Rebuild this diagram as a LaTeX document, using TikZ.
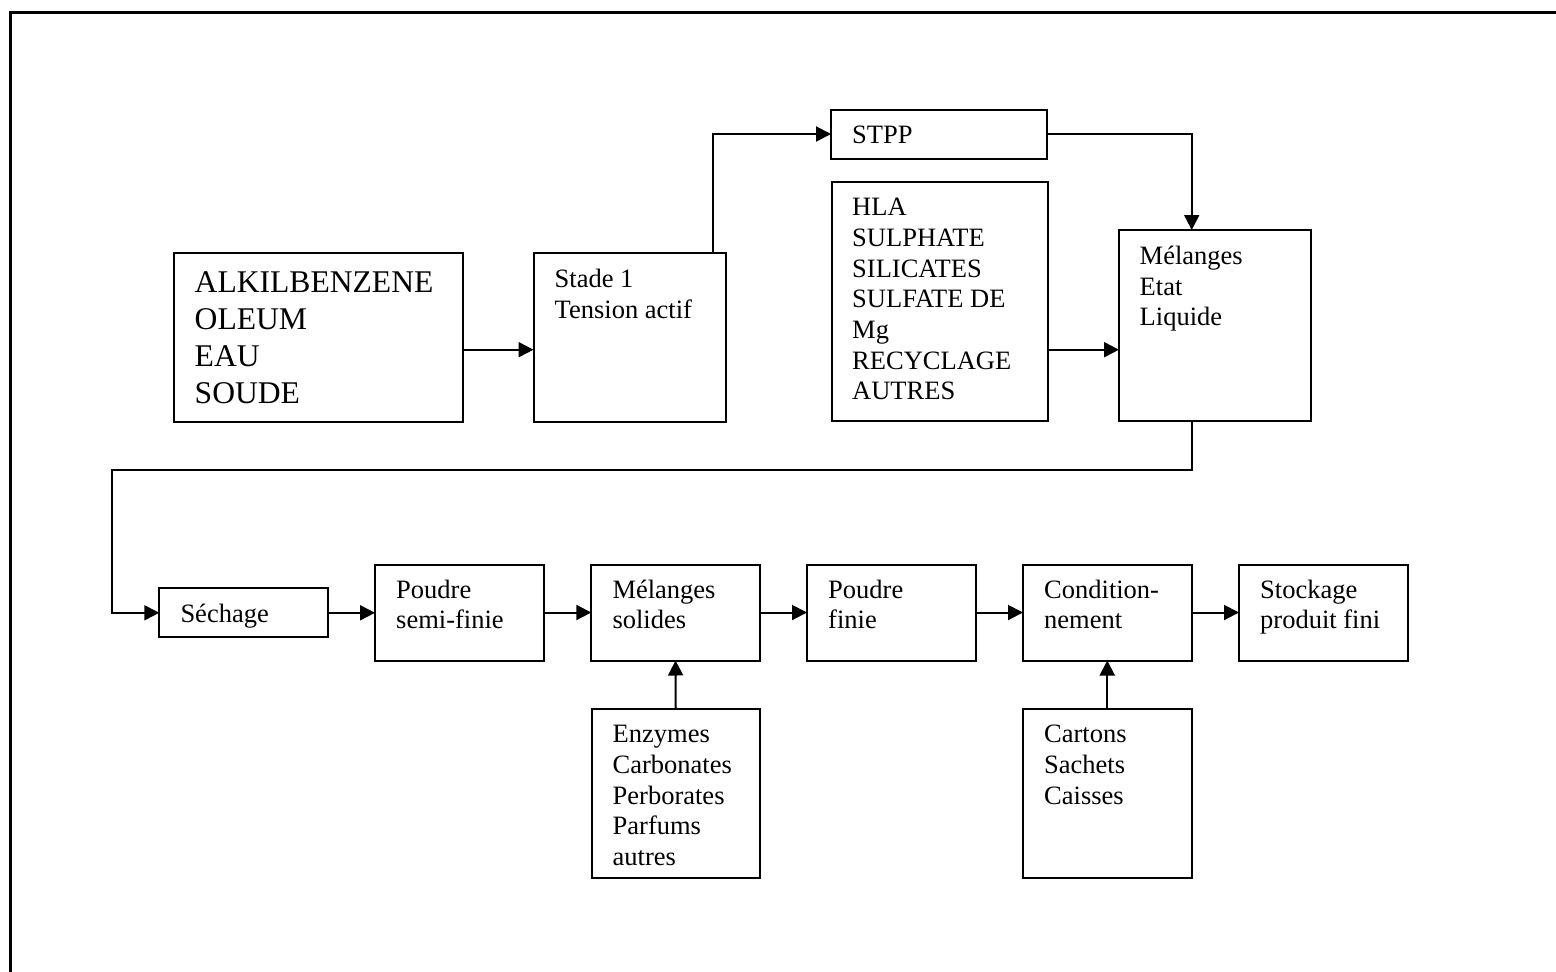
\documentclass[tikz,border=0pt]{standalone}
\usepackage{fontspec}
\setmainfont{Liberation Serif}
\usetikzlibrary{arrows.meta,calc}
\newcommand{\mylines}[1]{\begin{tabular}[t]{@{}l@{}}#1\end{tabular}}
\begin{document}
\begin{tikzpicture}[x=1pt,y=-1pt,
  box/.style={draw,line width=2pt,outer sep=0pt,inner sep=0pt,anchor=north west},
  txt/.style={anchor=base west,inner sep=0pt,font=\fontsize{26.5}{30.7}\selectfont},
  bigtxt/.style={anchor=base west,inner sep=0pt,font=\fontsize{31.6}{36.9}\selectfont},
  arr/.style={line width=2pt,-{Triangle[length=15pt,width=15pt]}},
  frame/.style={line width=3pt}]
\useasboundingbox (0,0) rectangle (1556,972);
% outer frame (top and left)
\draw[frame] (10.5,972) -- (10.5,12) -- (1556,12);

% boxes
\node[box,minimum width=289pt,minimum height=168.4pt] (alk) at (173.5,253.3) {};
\node[box,minimum width=192.2pt,minimum height=168.4pt] (stade) at (533.5,253.3) {};
\node[box,minimum width=216pt,minimum height=49pt] (stpp) at (831,109.5) {};
\node[box,minimum width=215.5pt,minimum height=238.4pt] (hla) at (832,182.3) {};
\node[box,minimum width=192pt,minimum height=190.7pt] (mel) at (1119,230) {};
\node[box,minimum width=168.4pt,minimum height=49pt] (sech) at (159.3,588.3) {};
\node[box,minimum width=168.5pt,minimum height=96pt] (psf) at (375,564.5) {};
\node[box,minimum width=168.5pt,minimum height=96pt] (mso) at (591.3,564.5) {};
\node[box,minimum width=168.5pt,minimum height=96pt] (pfi) at (807,564.5) {};
\node[box,minimum width=168.5pt,minimum height=96pt] (cond) at (1023,564.5) {};
\node[box,minimum width=168.5pt,minimum height=96pt] (stock) at (1239,564.5) {};
\node[box,minimum width=168.5pt,minimum height=169pt] (enz) at (591.5,709.3) {};
\node[box,minimum width=168.5pt,minimum height=169pt] (cart) at (1023,709.3) {};

% texts
\node[bigtxt] (alk-t) at ($(alk.north west)+(21,39.4)$) {\mylines{ALKILBENZENE\\OLEUM\\EAU\\SOUDE}};
\node[txt] (stade-t) at ($(stade.north west)+(21,34.4)$) {\mylines{Stade 1\\Tension actif}};
\node[txt] (stpp-t) at ($(stpp.north west)+(21,34)$) {STPP};
\node[txt] (hla-t) at ($(hla.north west)+(20,33.4)$) {\mylines{HLA\\SULPHATE\\SILICATES\\SULFATE DE\\Mg\\RECYCLAGE\\AUTRES}};
\node[txt] (mel-t) at ($(mel.north west)+(20.5,34.3)$) {\mylines{Mélanges\\Etat\\Liquide}};
\node[txt] (sech-t) at ($(sech.north west)+(21,34)$) {Séchage};
\node[txt] (psf-t) at ($(psf.north west)+(21,33.5)$) {\mylines{Poudre\\semi-finie}};
\node[txt] (mso-t) at ($(mso.north west)+(21,33.5)$) {\mylines{Mélanges\\solides}};
\node[txt] (pfi-t) at ($(pfi.north west)+(21,33.5)$) {\mylines{Poudre\\finie}};
\node[txt] (cond-t) at ($(cond.north west)+(21,33.5)$) {\mylines{Condition-\\nement}};
\node[txt] (stock-t) at ($(stock.north west)+(21,33.5)$) {\mylines{Stockage\\produit fini}};
\node[txt] (enz-t) at ($(enz.north west)+(21,33.4)$) {\mylines{Enzymes\\Carbonates\\Perborates\\Parfums\\autres}};
\node[txt] (cart-t) at ($(cart.north west)+(21,33.4)$) {\mylines{Cartons\\Sachets\\Caisses}};

% connectors
\coordinate (a1) at ($(alk.south east)+(0,-72)$);
\draw[arr] (a1) -- (a1 -| stade.west);
\coordinate (s1) at ($(stade.north west)+(179.2,0)$);
\draw[arr] (s1) |- (stpp.west);
\coordinate (m1) at ($(mel.north west)+(72.7,0)$);
\draw[arr] (stpp.east) -| (m1);
\coordinate (h1) at ($(hla.south east)+(0,-71)$);
\draw[arr] (h1) -- (h1 -| mel.west);
\coordinate (l1) at ($(mel.south west)+(72.7,0)$);
\coordinate (l2) at ($(l1)+(0,49.3)$);
\coordinate (l3) at ($(sech.west)+(-47.6,0)$);
\draw[arr] (l1) -- (l2) -| (l3) -- (sech.west);
\draw[arr] (sech.east) -- (sech.east -| psf.west);
\draw[arr] (psf.east) -- (mso.west);
\draw[arr] (mso.east) -- (pfi.west);
\draw[arr] (pfi.east) -- (cond.west);
\draw[arr] (cond.east) -- (stock.west);
\draw[arr] (enz.north) -- (mso.south);
\draw[arr] (cart.north) -- (cond.south);
\end{tikzpicture}
\end{document}
